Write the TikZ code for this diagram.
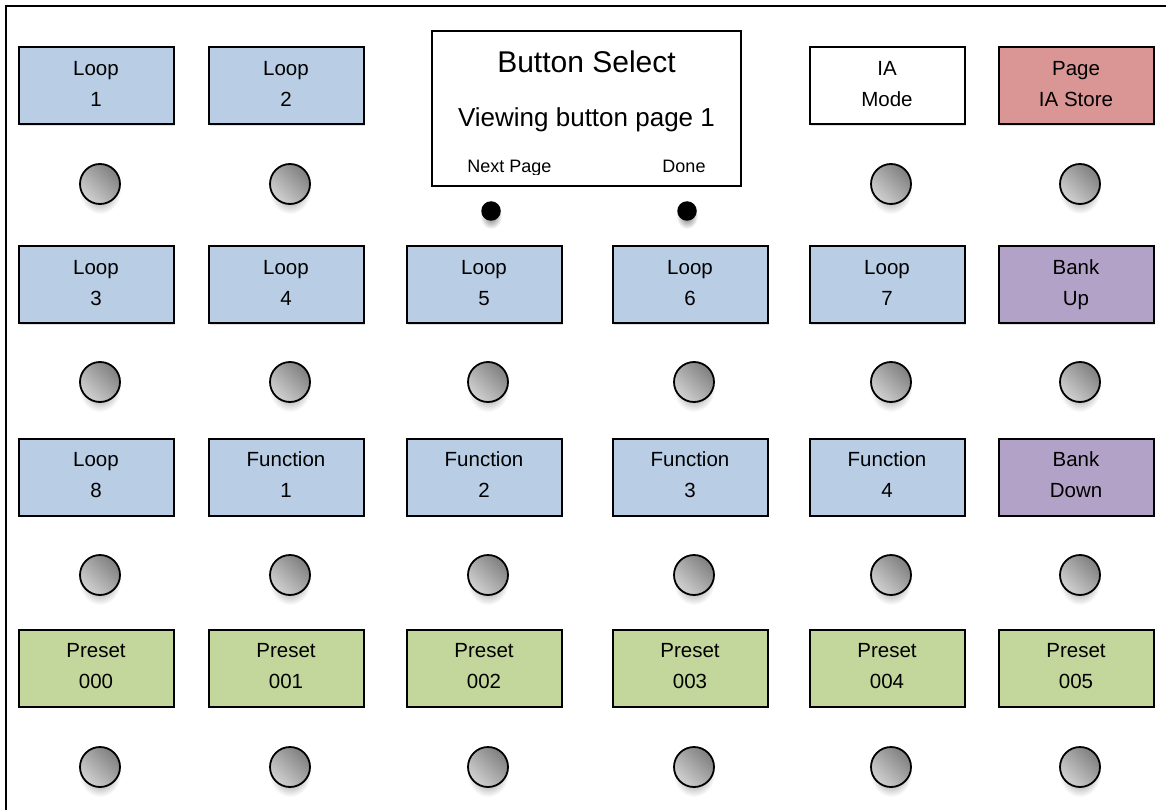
\documentclass[tikz,border=0pt]{standalone}
\usepackage{fontspec}
\setmainfont{Liberation Sans}
\definecolor{bluebox}{HTML}{B9CDE5}
\definecolor{greenbox}{HTML}{C3D69B}
\definecolor{redbox}{HTML}{D99694}
\definecolor{purplebox}{HTML}{B3A2C7}
\begin{document}
\begin{tikzpicture}[x=1pt,y=-1pt,
  btn/.style={draw, line width=2pt, minimum width=155pt, minimum height=77pt,
    inner sep=0pt, align=center, font=\fontsize{20.5}{31}\selectfont,
    execute at end node={\rule[-4pt]{0pt}{4pt}}},
  knob/.style={circle, draw, line width=1.8pt, minimum size=40pt, inner sep=0pt,
    shading=axis, top color=black!50, bottom color=black!18, shading angle=-45},
  dotbtn/.style={circle, fill=black, minimum size=19.5pt, inner sep=0pt},
  frameline/.style={line width=2.2pt}]
\useasboundingbox (0,0) rectangle (1166,810);
\clip (0,0) rectangle (1166,810);
\fill[white] (0,0) rectangle (1166,810);
\draw[frameline] (6,830) -- (6,6) -- (1180,6);

% box shadows
\def\bxshadow#1#2{\fill[black!12] (#1-76.5,#2-37.5) rectangle (#1+78.5,#2+40);}
\def\knshadow#1#2{\shade[inner color=black!55, outer color=white] (#1,#2+6) ellipse (21 and 24);}

% row 1
\foreach \x in {96,286,887,1076} {\bxshadow{\x}{86}}
\node[btn, fill=bluebox] (b11) at (96,86) {Loop\\1};
\node[btn, fill=bluebox] (b12) at (286,86) {Loop\\2};
\node[btn, fill=white] (b15) at (887,86) {IA\\Mode};
\node[btn, fill=redbox] (b16) at (1076,86) {Page\\IA Store};

% display
\node[draw, line width=2pt, fill=white, minimum width=309pt, minimum height=155pt, inner sep=0pt] (disp) at (586.5,108.5) {};
\node[anchor=base, font=\fontsize{30}{36}\selectfont, inner sep=0pt] (dtitle) at (586.5,73) {Button Select};
\node[anchor=base, font=\fontsize{26}{31}\selectfont, inner sep=0pt] (dsub) at (586.5,127) {Viewing button page 1};
\begin{scope}
\clip (433,32) rectangle (740,175);
\node[anchor=base, font=\fontsize{18}{22}\selectfont, inner sep=0pt] (dnext) at (509.5,173) {Next Page};
\node[anchor=base, font=\fontsize{18}{22}\selectfont, inner sep=0pt] (ddone) at (684,173) {Done};
\end{scope}
\shade[inner color=black!55, outer color=white] (491,216) ellipse (11 and 13);
\shade[inner color=black!55, outer color=white] (687,216) ellipse (11 and 13);
\node[dotbtn] (d1) at (491,211) {};
\node[dotbtn] (d2) at (687,211) {};

% row 2
\foreach \x in {96,286,484,690,887,1076} {\bxshadow{\x}{284.5}}
\node[btn, fill=bluebox] (b21) at (96,284.5) {Loop\\3};
\node[btn, fill=bluebox] (b22) at (286,284.5) {Loop\\4};
\node[btn, fill=bluebox] (b23) at (484,284.5) {Loop\\5};
\node[btn, fill=bluebox] (b24) at (690,284.5) {Loop\\6};
\node[btn, fill=bluebox] (b25) at (887,284.5) {Loop\\7};
\node[btn, fill=purplebox] (b26) at (1076,284.5) {Bank\\Up};

% row 3
\foreach \x in {96,286,484,690,887,1076} {\bxshadow{\x}{477}}
\node[btn, fill=bluebox] (b31) at (96,477) {Loop\\8};
\node[btn, fill=bluebox] (b32) at (286,477) {Function\\1};
\node[btn, fill=bluebox] (b33) at (484,477) {Function\\2};
\node[btn, fill=bluebox] (b34) at (690,477) {Function\\3};
\node[btn, fill=bluebox] (b35) at (887,477) {Function\\4};
\node[btn, fill=purplebox] (b36) at (1076,477) {Bank\\Down};

% row 4
\foreach \x in {96,286,484,690,887,1076} {\bxshadow{\x}{668}}
\node[btn, fill=greenbox] (b41) at (96,668) {Preset\\000};
\node[btn, fill=greenbox] (b42) at (286,668) {Preset\\001};
\node[btn, fill=greenbox] (b43) at (484,668) {Preset\\002};
\node[btn, fill=greenbox] (b44) at (690,668) {Preset\\003};
\node[btn, fill=greenbox] (b45) at (887,668) {Preset\\004};
\node[btn, fill=greenbox] (b46) at (1076,668) {Preset\\005};

% knobs
\foreach \x/\c in {100/1,290/2,891/5,1080/6} {
  \knshadow{\x}{184}
  \node[knob] (k1\c) at (\x,184) {};
}
\foreach \r/\y in {2/382,3/575,4/767} {
  \foreach \x/\c in {100/1,290/2,488/3,694/4,891/5,1080/6} {
    \knshadow{\x}{\y}
    \node[knob] (k\r\c) at (\x,\y) {};
  }
}
\end{tikzpicture}
\end{document}
